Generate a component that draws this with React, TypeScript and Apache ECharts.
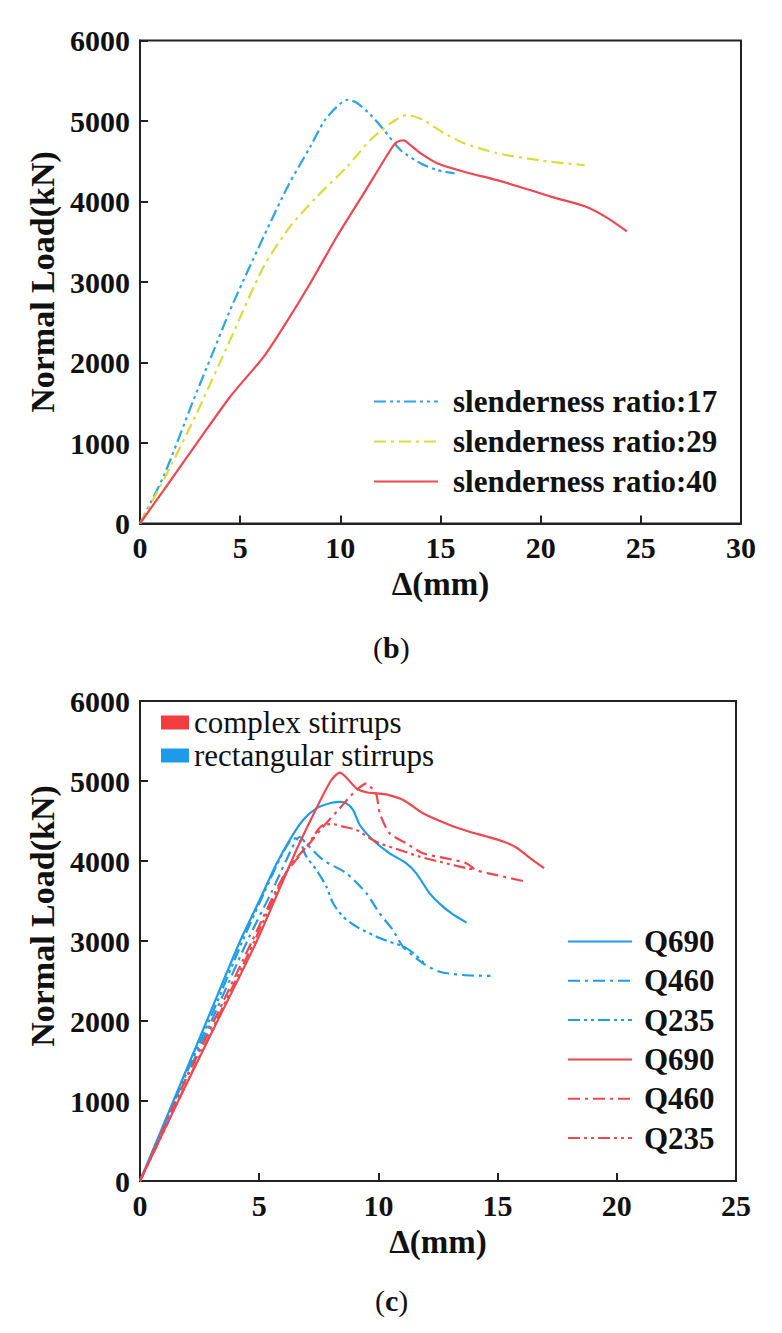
import React, { useEffect, useRef } from "react";
import * as echarts from "echarts";

// ---------- Chart (b): slenderness ratio ----------
const topXTicks = [0, 5, 10, 15, 20, 25, 30];
const topYTicks = [0, 1000, 2000, 3000, 4000, 5000, 6000];
const topNames = ["slenderness ratio:17", "slenderness ratio:29", "slenderness ratio:40"];

const ratio17: [number, number][] = [
  [0, 0], [1.2, 600], [2.67, 1534], [3.6, 2100], [4.5, 2652], [5.4, 3150], [6.33, 3646],
  [7.4, 4200], [8.5, 4681], [9.2, 5000], [9.83, 5178], [10.33, 5262], [10.8, 5230],
  [11.5, 5080], [12.17, 4890], [13.0, 4640], [14.0, 4475], [14.83, 4390], [15.7, 4350],
];
const ratio29: [number, number][] = [
  [0, 0], [1.2, 550], [2.83, 1370], [4.5, 2280], [6.17, 3190], [7.5, 3690], [8.83, 4060],
  [10.33, 4430], [11.5, 4765], [12.5, 4970], [13.33, 5075], [14.17, 5010], [15.17, 4850],
  [16.17, 4725], [17.83, 4600], [20.0, 4510], [22.2, 4450],
];
const ratio40: [number, number][] = [
  [0, 0], [1.4, 490], [2.83, 995], [4.5, 1575], [6.17, 2070], [7.17, 2445], [8.5, 2985],
  [9.83, 3565], [11.17, 4100], [12.5, 4640], [12.83, 4740], [13.17, 4760], [13.5, 4700],
  [14.0, 4600], [14.83, 4475], [16.17, 4370], [17.83, 4265], [19.5, 4140], [20.5, 4060],
  [22.2, 3940], [23.3, 3800], [24.3, 3630],
];

// ---------- Chart (c): stirrups & steel grade ----------
const botXTicks = [0, 5, 10, 15, 20, 25];
const botYTicks = [0, 1000, 2000, 3000, 4000, 5000, 6000];
const stirrupNames = ["complex stirrups", "rectangular stirrups"];
const gradeNames = ["Q690", "Q460", "Q235"];

const rectQ690: [number, number][] = [
  [0, 0], [1.4, 1000], [2.8, 2000], [4.2, 3000], [5.0, 3500], [5.7, 3950], [6.28, 4263],
  [6.84, 4512], [7.4, 4658], [8.0, 4725], [8.4, 4740], [8.66, 4721], [8.94, 4638],
  [9.22, 4450], [9.77, 4263], [10.47, 4096], [11.17, 3971], [11.59, 3846], [12.15, 3596],
  [12.71, 3429], [13.1, 3340], [13.7, 3230],
];
const rectQ460: [number, number][] = [
  [0, 0], [1.5, 1000], [3.0, 2000], [4.5, 3000], [5.5, 3600], [6.2, 4050], [6.7, 4300],
  [7.0, 4210], [7.68, 4013], [8.66, 3846], [9.5, 3596], [10.05, 3346], [10.61, 3137],
  [11.03, 2929], [11.87, 2721], [12.57, 2616], [13.54, 2575], [14.7, 2563],
];
const rectQ235: [number, number][] = [
  [0, 0], [1.45, 1000], [2.9, 2000], [4.3, 3000], [5.2, 3600], [5.9, 4050], [6.3, 4250],
  [6.6, 4290], [6.98, 4054], [7.4, 3888], [7.82, 3679], [8.1, 3471], [8.52, 3304],
  [9.08, 3179], [9.92, 3054], [10.47, 2991], [11.06, 2930], [11.48, 2845], [11.9, 2730],
];
const compQ690: [number, number][] = [
  [0, 0], [1.6, 1000], [3.25, 2000], [4.9, 3000], [6.56, 4138], [7.33, 4616], [8.0, 5000],
  [8.38, 5104], [8.6, 5060], [9.08, 4909], [9.5, 4860], [9.92, 4846], [10.33, 4833],
  [11.06, 4760], [11.87, 4596], [12.99, 4450], [13.82, 4366], [14.5, 4310], [15.27, 4240],
  [15.83, 4160], [16.39, 4030], [16.95, 3910],
];
const compQ460: [number, number][] = [
  [0, 0], [1.5, 1000], [3.1, 2000], [4.7, 3000], [6.0, 3800], [6.84, 4117], [7.6, 4400],
  [8.38, 4659], [8.94, 4846], [9.5, 4971], [9.75, 4900], [9.92, 4825], [10.06, 4596],
  [10.47, 4346], [11.17, 4221], [11.87, 4096], [12.85, 4033], [13.69, 3971], [14.1, 3888],
  [15.0, 3820], [16.06, 3750],
];
const compQ235: [number, number][] = [
  [0, 0], [1.6, 1000], [3.2, 2000], [4.8, 3000], [6.2, 3900], [6.98, 4179], [7.68, 4450],
  [8.1, 4460], [8.52, 4429], [9.08, 4388], [9.64, 4284], [10.05, 4221], [10.89, 4138],
  [11.73, 4054], [12.57, 3991], [13.41, 3929], [14.1, 3888],
];

const SERIF = "Liberation Serif";
const BLUE_T = "#2ca5e8";
const YELLOW_T = "#dbdb3e";
const RED_T = "#ef4752";
const BLUE_B = "#1f9ce8";
const RED_B = "#f0464f";
const DASH_DOT = [12, 5, 3, 5];
const DASH_DOT_DOT = [12, 4, 3, 4, 3, 4];

function axisX(gridIndex: number, ticks: number[]) {
  return {
    type: "value",
    gridIndex,
    min: ticks[0],
    max: ticks[ticks.length - 1],
    interval: ticks[1] - ticks[0],
    name: "Δ(mm)",
    nameLocation: "middle",
    nameGap: 44,
    nameTextStyle: { fontFamily: SERIF, fontSize: 33, fontWeight: "bold", color: "#111" },
    axisLine: { show: true, lineStyle: { color: "#222", width: 2 } },
    axisTick: { show: true, inside: true, length: 8, lineStyle: { color: "#222", width: 2 } },
    axisLabel: { fontFamily: SERIF, fontSize: 30, fontWeight: "bold", color: "#111", margin: 9, formatter: (v: number) => String(v) },
    splitLine: { show: false },
  };
}
function axisY(gridIndex: number, ticks: number[], shift: number) {
  return {
    type: "value",
    gridIndex,
    min: ticks[0],
    max: ticks[ticks.length - 1],
    interval: ticks[1] - ticks[0],
    name: "Normal Load(kN)",
    nameLocation: "middle",
    nameGap: 70,
    nameRotate: 90,
    nameTextStyle: { fontFamily: SERIF, fontSize: 34, fontWeight: "bold", color: "#111", padding: [0, 0, 0, shift] },
    axisLine: { show: true, lineStyle: { color: "#222", width: 2 } },
    axisTick: { show: true, inside: true, length: 8, lineStyle: { color: "#222", width: 2 } },
    axisLabel: { fontFamily: SERIF, fontSize: 30, fontWeight: "bold", color: "#111", margin: 10, formatter: (v: number) => String(v) },
    splitLine: { show: false },
  };
}

function line(name: string, data: [number, number][], color: string, type: any, grid: number) {
  return {
    type: "line",
    name,
    xAxisIndex: grid,
    yAxisIndex: grid,
    data,
    smooth: 0.25,
    symbol: "none",
    showSymbol: false,
    color,
    lineStyle: { color, width: 2.2, type },
    itemStyle: { color },
    z: 3,
  };
}

export default function App() {
  const ref = useRef<HTMLDivElement>(null);
  useEffect(() => {
    document.body.style.margin = "0";
    const chart = echarts.init(ref.current!, null, { renderer: "svg" });
    const option: any = {
      animation: false,
      backgroundColor: "#fff",
      textStyle: { fontFamily: SERIF },
      grid: [
        { left: 140, top: 40.5, width: 601, height: 483, show: true, borderColor: "#222", borderWidth: 2, backgroundColor: "transparent" },
        { left: 140, top: 701, width: 596, height: 480, show: true, borderColor: "#222", borderWidth: 2, backgroundColor: "transparent" },
      ],
      xAxis: [axisX(0, topXTicks), axisX(1, botXTicks)],
      yAxis: [axisY(0, topYTicks, 0), axisY(1, botYTicks, 50)],
      legend: [
        {
          data: topNames,
          orient: "vertical",
          left: 368,
          top: 381,
          itemWidth: 64,
          itemHeight: 14,
          itemGap: 9,
          selectedMode: false,
          itemStyle: { opacity: 0 },
          textStyle: { fontFamily: SERIF, fontSize: 31, fontWeight: "bold", color: "#111", lineHeight: 31, padding: [0, 0, 0, 10] },
        },
        {
          data: stirrupNames,
          orient: "vertical",
          left: 156,
          top: 702,
          icon: "rect",
          itemWidth: 28,
          itemHeight: 14,
          itemGap: 2,
          selectedMode: false,
          textStyle: { fontFamily: SERIF, fontSize: 31, color: "#111", lineHeight: 31 },
        },
        {
          data: ["Q690", "Q460", "Q235", "Q690 ", "Q460 ", "Q235 "],
          orient: "vertical",
          left: 562,
          top: 921,
          itemWidth: 64,
          itemHeight: 14,
          itemGap: 8.3,
          selectedMode: false,
          itemStyle: { opacity: 0 },
          formatter: (n: string) => n.trim(),
          textStyle: { fontFamily: SERIF, fontSize: 31, fontWeight: "bold", color: "#111", lineHeight: 31, padding: [0, 0, 0, 7] },
        },
      ],
      series: [
        line(topNames[0], ratio17, BLUE_T, DASH_DOT_DOT, 0),
        line(topNames[1], ratio29, YELLOW_T, DASH_DOT, 0),
        line(topNames[2], ratio40, RED_T, "solid", 0),
        line(gradeNames[0], rectQ690, BLUE_B, "solid", 1),
        line(gradeNames[1], rectQ460, BLUE_B, DASH_DOT, 1),
        line(gradeNames[2], rectQ235, BLUE_B, DASH_DOT_DOT, 1),
        line(gradeNames[0] + " ", compQ690, RED_B, "solid", 1),
        line(gradeNames[1] + " ", compQ460, RED_B, DASH_DOT, 1),
        line(gradeNames[2] + " ", compQ235, RED_B, DASH_DOT_DOT, 1),
        { type: "line", name: stirrupNames[0], xAxisIndex: 1, yAxisIndex: 1, data: [], color: "#f23c40", itemStyle: { color: "#f23c40" } },
        { type: "line", name: stirrupNames[1], xAxisIndex: 1, yAxisIndex: 1, data: [], color: "#1e9be8", itemStyle: { color: "#1e9be8" } },
      ],
      graphic: [
        {
          type: "text",
          left: 373,
          top: 632,
          style: {
            text: "{p|(}{b|b}{p|)}",
            rich: {
              p: { fontFamily: SERIF, fontSize: 30, fill: "#111" },
              b: { fontFamily: SERIF, fontSize: 30, fontWeight: "bold", fill: "#111" },
            },
          },
        },
        {
          type: "text",
          left: 375,
          top: 1285,
          style: {
            text: "{p|(}{b|c}{p|)}",
            rich: {
              p: { fontFamily: SERIF, fontSize: 30, fill: "#111" },
              b: { fontFamily: SERIF, fontSize: 30, fontWeight: "bold", fill: "#111" },
            },
          },
        },
      ],
    };
    chart.setOption(option);
    return () => chart.dispose();
  }, []);
  return <div ref={ref} style={{ width: 782, height: 1333 }} />;
}
